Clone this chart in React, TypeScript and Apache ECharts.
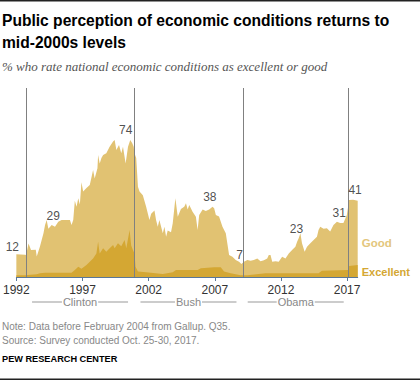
import React, { useEffect, useRef } from "react";
import * as echarts from "echarts";

// x values are years since 1992 (decimal)
const BASE_YEAR = 1992;

const totalT = [0, 0.66, 0.74, 0.92, 1.11, 1.47, 1.54, 1.79, 2.05, 2.17, 2.29, 2.42, 2.67, 2.92, 3.17, 3.42, 4.05, 4.17, 4.3, 4.42, 4.55, 4.68, 4.8, 4.92, 5.05, 5.3, 5.55, 5.8, 5.92, 6.13, 6.18, 6.3, 6.43, 6.56, 6.8, 7.05, 7.31, 7.43, 7.56, 7.76, 7.93, 8.06, 8.26, 8.44, 8.61, 8.76, 8.87, 8.93, 9.06, 9.19, 9.31, 9.56, 9.68, 9.81, 10.06, 10.19, 10.44, 10.56, 10.69, 10.81, 11.07, 11.19, 11.32, 11.44, 11.69, 11.82, 12.02, 12.2, 12.44, 12.69, 12.82, 12.95, 13.07, 13.32, 13.57, 13.7, 13.82, 14.08, 14.32, 14.57, 14.83, 14.95, 15.08, 15.32, 15.58, 15.83, 16.08, 16.33, 16.58, 16.83, 17.01, 17.2, 17.46, 17.71, 17.95, 18.21, 18.46, 18.71, 18.96, 19.08, 19.21, 19.34, 19.59, 19.83, 20.09, 20.34, 20.59, 20.84, 21.09, 21.22, 21.34, 21.47, 21.59, 21.79, 21.97, 22.22, 22.47, 22.72, 22.84, 22.97, 23.22, 23.47, 23.72, 23.97, 24.23, 24.47, 24.72, 24.98, 25.15, 25.45, 25.8];
const totalV = [12.2, 12, 11.8, 18, 14.5, 14.7, 11, 16.5, 23.5, 28, 30.6, 26, 27.9, 27, 29.7, 30.6, 30.6, 28, 30.6, 41, 37.8, 42.4, 39, 51, 46, 47.8, 49.5, 57.5, 53, 58.4, 65.6, 61, 64, 65.6, 66.5, 70, 72.8, 73.7, 68.3, 71, 66.5, 70, 61, 70, 73.7, 71.9, 70, 66.5, 64, 48.5, 45.9, 44, 41, 37.8, 30.6, 34, 35.8, 30.6, 27, 30.6, 23.5, 27, 21.7, 25, 24, 28.9, 42.3, 32.4, 36.5, 37.8, 39.6, 36.3, 38.7, 35.1, 32.4, 25.3, 33.3, 36.3, 35.5, 36.3, 37.8, 37, 33.3, 32.5, 27, 23.5, 11.8, 10.9, 9.1, 8.2, 7, 8.2, 9.1, 8.8, 9.1, 10, 8.5, 9, 10, 11.8, 11.8, 8.2, 8.5, 8.2, 10.9, 10, 12.7, 14.5, 16.3, 19, 20.8, 23.5, 18.1, 13.6, 16.3, 18.1, 19.9, 21.7, 25.3, 27, 26, 26.2, 24.4, 28, 29.7, 29, 29, 33.3, 41.4, 41.5, 41];

const excT = [0, 0.64, 1.54, 1.79, 2.17, 4.17, 4.42, 4.68, 4.92, 5.3, 5.55, 5.8, 6.05, 6.18, 6.3, 6.56, 6.8, 7.05, 7.31, 7.43, 7.68, 7.93, 8.18, 8.31, 8.56, 8.68, 8.81, 8.93, 9.01, 9.19, 9.81, 11.07, 11.82, 12.07, 12.82, 13.7, 13.95, 14.95, 15.45, 15.7, 16.2, 16.95, 17.46, 18.83, 22.84, 23.1, 25.07, 25.15, 25.8];
const excV = [1, 1, 1.5, 2, 2.3, 2.3, 3.8, 5.5, 4.5, 6.4, 8.2, 10, 12.7, 19, 12.7, 15.4, 13.6, 15.4, 17.2, 15.4, 18.1, 16.5, 19.9, 15.4, 25.3, 17, 14.5, 12.7, 5.5, 2.9, 2.5, 1.6, 2.5, 3.8, 3.8, 3.8, 4.7, 5.2, 5.2, 2.9, 2, 1, 1, 2, 2, 3.4, 3.8, 5.9, 6.4];

const annoT = [0, 2.29, 8.61, 14.83, 17.01, 21.47, 24.98, 25.15];
const annoV = [12, 29, 74, 38, 7, 23, 31, 41];

const termNames = ["Clinton", "Bush", "Obama"];
const termStart = [0.74, 8.89, 17.13];
const termEnd = [8.89, 17.13, 25.1];
const dividerT = [0.74, 8.89, 17.13, 25.1];

const tickT = [0, 5, 10, 15, 20, 25];

// styling only
const annoOffset = [[-4, -8], [6.5, -7], [-4.5, -9.5], [-2.7, -9], [-1.7, -8.5], [-4, -5], [-7.7, -6.3], [6, -10.7]];
const SANS = '"Liberation Sans", Arial, sans-serif';
const GOOD = "#e1c272";
const EXC = "#d4a733";

export default function App() {
  const ref = useRef<HTMLDivElement>(null);
  useEffect(() => {
    document.body.style.margin = "0";
    const chart = echarts.init(ref.current!, null, { renderer: "svg" });
    const YMAX = 101.6;
    chart.setOption({
      animation: false,
      grid: { left: 14.5, right: 62.3, top: 88, bottom: 104 },
      xAxis: {
        type: "value",
        min: 0,
        max: 25.8,
        interval: 5,
        axisLine: { show: true, lineStyle: { color: "#5a7797", width: 1 } },
        axisTick: { show: true, length: 4, lineStyle: { color: "#5a7797" }, customValues: tickT },
        axisLabel: {
          customValues: tickT,
          formatter: (v: number) => String(Math.round(v) + BASE_YEAR),
          color: "#333",
          fontSize: 12,
          fontFamily: SANS,
          margin: 7,
        },
        splitLine: { show: false },
      },
      yAxis: { type: "value", min: 0, max: YMAX, show: false, splitLine: { show: false } },
      series: [
        {
          name: "Good",
          type: "line",
          data: totalT.map((t, i) => [t, totalV[i]]),
          showSymbol: false,
          symbol: "none",
          lineStyle: { width: 0 },
          areaStyle: { color: GOOD, opacity: 1 },
          z: 1,
        },
        {
          name: "Excellent",
          type: "line",
          data: excT.map((t, i) => [t, excV[i]]),
          showSymbol: false,
          symbol: "none",
          lineStyle: { width: 0 },
          areaStyle: { color: EXC, opacity: 1 },
          z: 2,
        },
        {
          name: "labels",
          type: "scatter",
          symbolSize: 0,
          z: 5,
          data: annoT.map((t, i) => ({
            value: [t, annoV[i]],
            label: { offset: annoOffset[i] },
          })),
          label: {
            show: true,
            position: "inside",
            formatter: (p: any) => String(p.value[1]),
            color: "#222",
            fontSize: 12,
            fontFamily: SANS,
          },
          markLine: {
            silent: true,
            symbol: ["none", "none"],
            label: { show: false },
            lineStyle: { color: "#808080", width: 1, type: "solid" },
            data: dividerT.map((t) => [{ coord: [t, 0] }, { coord: [t, YMAX] }]),
          },
        },
      ],
    });

    const graphic: any[] = [
      { type: "rect", shape: { x: 0, y: 0, width: 420, height: 1.5 }, style: { fill: "#222" } },
      { type: "rect", shape: { x: 0, y: 378.5, width: 420, height: 1.5 }, style: { fill: "#222" } },
      { type: "text", x: 2, y: 20.5, style: { text: "Public perception of economic conditions returns to", font: `bold 15.6px ${SANS}`, fill: "#000", verticalAlign: "middle" } },
      { type: "text", x: 2, y: 42, style: { text: "mid-2000s levels", font: `bold 15.6px ${SANS}`, fill: "#000", verticalAlign: "middle" } },
      { type: "text", x: 2, y: 66, style: { text: "% who rate national economic conditions as excellent or good", font: `italic 13px "Liberation Serif", serif`, fill: "#555", verticalAlign: "middle" } },
      { type: "text", x: 361.7, y: 243, style: { text: "Good", font: `bold 11.5px ${SANS}`, fill: "#e3c67c", verticalAlign: "middle" } },
      { type: "text", x: 361.7, y: 271.5, style: { text: "Excellent", font: `bold 11px ${SANS}`, fill: EXC, verticalAlign: "middle" } },
      { type: "text", x: 2, y: 326, style: { text: "Note: Data before February 2004 from Gallup. Q35.", font: `10px ${SANS}`, fill: "#888", verticalAlign: "middle" } },
      { type: "text", x: 2, y: 340, style: { text: "Source: Survey conducted Oct. 25-30, 2017.", font: `10px ${SANS}`, fill: "#888", verticalAlign: "middle" } },
      { type: "text", x: 2, y: 359, style: { text: "PEW RESEARCH CENTER", font: `bold 9.2px ${SANS}`, fill: "#000", verticalAlign: "middle" } },
    ];
    termNames.forEach((name, i) => {
      const a = chart.convertToPixel({ gridIndex: 0 }, [termStart[i], 0]) as number[];
      const b = chart.convertToPixel({ gridIndex: 0 }, [termEnd[i], 0]) as number[];
      const cx = (a[0] + b[0]) / 2;
      graphic.push({ type: "line", z: 10, shape: { x1: cx - 48, y1: 302, x2: cx + 48, y2: 302 }, style: { stroke: "#999", lineWidth: 1 } });
      graphic.push({ type: "text", z: 11, x: cx, y: 302, style: { text: name, font: `11px ${SANS}`, fill: "#888", align: "center", verticalAlign: "middle", backgroundColor: "#fff", padding: [0, 1] } });
    });
    chart.setOption({ graphic });

    return () => chart.dispose();
  }, []);
  return <div ref={ref} style={{ width: 420, height: 381 }} />;
}
